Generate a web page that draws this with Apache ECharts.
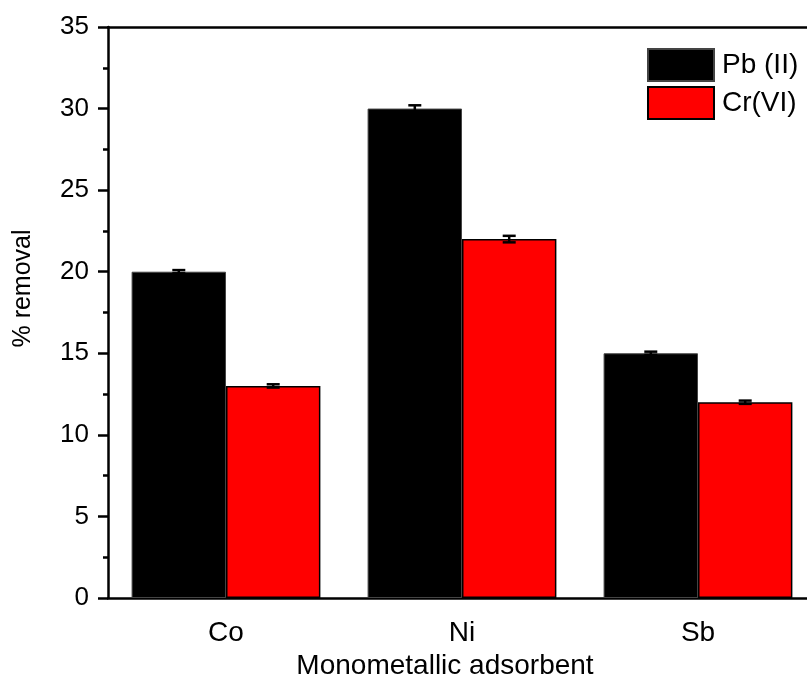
<!DOCTYPE html>
<html>
<head>
<meta charset="utf-8">
<script src="https://cdn.jsdelivr.net/npm/echarts@6/dist/echarts.min.js"></script>
<style>html,body{margin:0;padding:0;background:#fff;overflow:hidden;}#c{width:807px;height:679px;}</style>
</head>
<body>
<div id="c"></div>
<script>
const categories = ['Co', 'Ni', 'Sb'];
const pbValues = [20, 30, 15];
const pbErrors = [0.1, 0.2, 0.1];
const crValues = [13, 22, 12];
const crErrors = [0.1, 0.2, 0.1];
const yTicks = [0, 5, 10, 15, 20, 25, 30, 35];

const chart = echarts.init(document.getElementById('c'));
const font = 'Liberation Sans, Arial, sans-serif';

function errSeries(name, values, errors, side) {
  return {
    type: 'custom',
    name: name + ' err',
    z: 10,
    silent: true,
    data: values.map((v, i) => [i, v, errors[i]]),
    encode: { x: 0, y: 1 },
    renderItem: function (params, api) {
      const i = api.value(0), v = api.value(1), e = api.value(2);
      const band = api.size([1, 0])[0];
      const off = side * band * 0.2;
      const top = api.coord([i, v + e]);
      const bot = api.coord([i, v - e]);
      const x = top[0] + off;
      const cap = 6.5;
      const st = { stroke: '#000', lineWidth: 2.5 };
      return {
        type: 'group',
        children: [
          { type: 'line', shape: { x1: x, y1: top[1], x2: x, y2: bot[1] }, style: st },
          { type: 'line', shape: { x1: x - cap, y1: top[1], x2: x + cap, y2: top[1] }, style: st },
          { type: 'line', shape: { x1: x - cap, y1: bot[1], x2: x + cap, y2: bot[1] }, style: st }
        ]
      };
    },
    tooltip: { show: false }
  };
}

chart.setOption({
  animation: false,
  textStyle: { fontFamily: font },
  grid: { left: 108, top: 27, width: 708, height: 571, containLabel: false, outerBoundsMode: 'none' },
  legend: {
    data: ['Pb (II)', 'Cr(VI)'],
    orient: 'vertical',
    left: 647,
    top: 48,
    padding: 0,
    itemWidth: 66,
    itemHeight: 32,
    itemGap: 4,
    icon: 'rect',
    textStyle: { fontSize: 28, color: '#000', fontFamily: font, padding: [0, 0, 0, 3] }
  },
  xAxis: [{
    type: 'category',
    data: categories,
    name: 'Monometallic adsorbent',
    nameLocation: 'middle',
    nameGap: 53,
    nameTextStyle: { fontSize: 28, color: '#000', fontFamily: font, padding: [0, 34, 0, 0] },
    axisLine: { lineStyle: { color: '#000', width: 2.5 } },
    axisTick: { alignWithLabel: true, length: 10, lineStyle: { color: '#000', width: 2.5 } },
    axisLabel: { fontSize: 28, color: '#000', margin: 21, fontFamily: font },
    splitLine: { show: false }
  }, {
    type: 'category',
    data: categories,
    position: 'top',
    axisLine: { lineStyle: { color: '#000', width: 2.5 } },
    axisTick: { show: false },
    axisLabel: { show: false }
  }],
  yAxis: {
    type: 'value',
    min: 0,
    max: 35,
    interval: 5,
    name: '% removal',
    nameLocation: 'middle',
    nameGap: 72,
    nameTextStyle: { fontSize: 25, color: '#000', fontFamily: font, padding: [0, 0, 0, 48] },
    axisLine: { show: true, lineStyle: { color: '#000', width: 2.5 } },
    axisTick: { show: true, length: 10, lineStyle: { color: '#000', width: 2.5 } },
    minorTick: { show: true, splitNumber: 2, length: 5, lineStyle: { color: '#000', width: 2.5 } },
    axisLabel: { fontSize: 26, color: '#000', margin: 19, fontFamily: font,
      formatter: v => yTicks.includes(v) ? String(v) : '' },
    splitLine: { show: false }
  },
  series: [
    {
      name: 'Pb (II)', type: 'bar', data: pbValues,
      barGap: '0%', barCategoryGap: '20%',
      itemStyle: { color: '#000', borderColor: '#444', borderWidth: 1 }
    },
    {
      name: 'Cr(VI)', type: 'bar', data: crValues,
      barGap: '0%', barCategoryGap: '20%',
      itemStyle: { color: '#ff0000', borderColor: '#000', borderWidth: 1.5 }
    },
    errSeries('Pb (II)', pbValues, pbErrors, -1),
    errSeries('Cr(VI)', crValues, crErrors, 1)
  ]
});
</script>
</body>
</html>
